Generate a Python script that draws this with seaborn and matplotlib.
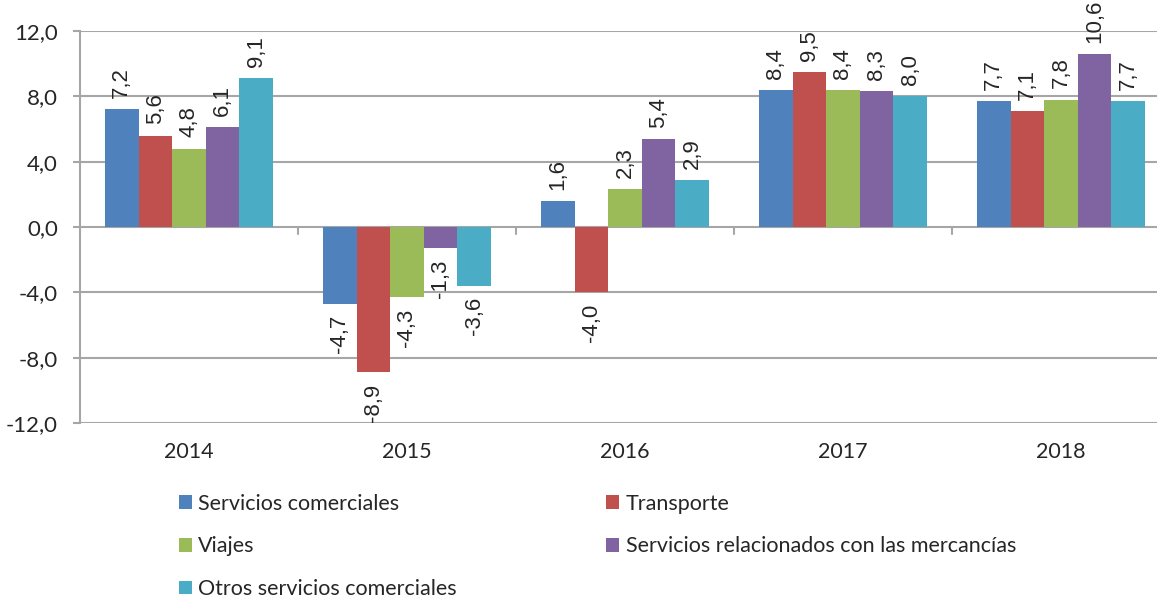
import pandas as pd
import matplotlib.pyplot as plt
import seaborn as sns
from matplotlib.patches import Patch

# Data
years = ["2014", "2015", "2016", "2017", "2018"]
series = ["Servicios comerciales", "Transporte", "Viajes",
          "Servicios relacionados con las mercancías", "Otros servicios comerciales"]
servicios_comerciales = [7.2, -4.7, 1.6, 8.4, 7.7]
transporte = [5.6, -8.9, -4.0, 9.5, 7.1]
viajes = [4.8, -4.3, 2.3, 8.4, 7.8]
mercancias = [6.1, -1.3, 5.4, 8.3, 10.6]
otros = [9.1, -3.6, 2.9, 8.0, 7.7]
colors = ["#4F81BD", "#C0504D", "#9BBB59", "#8064A2", "#4BACC6"]
yticks = [-12, -8, -4, 0, 4, 8, 12]

values = [servicios_comerciales, transporte, viajes, mercancias, otros]
rows = []
for name, vals in zip(series, values):
    for year, v in zip(years, vals):
        rows.append({"Año": year, "Serie": name, "Valor": v})
df = pd.DataFrame(rows)

sns.set_style("white")
plt.rcParams['font.family'] = ['Lato', 'DejaVu Sans']

fig = plt.figure(figsize=(11.57, 5.98), dpi=100)
ax = fig.add_axes([80 / 1157, 1 - 423 / 598, 1090 / 1157, 392 / 598])

sns.barplot(data=df, x="Año", y="Valor", hue="Serie", hue_order=series,
            palette=colors, width=0.77, linewidth=0, saturation=1,
            errorbar=None, ax=ax, legend=False, zorder=3)

fmt = lambda v: f"{v:.1f}".replace(".", ",")
for cont in ax.containers:
    ax.bar_label(cont, fmt=fmt, rotation=90, padding=8, fontsize=16,
                 family="Liberation Sans")

ax.set_xlim(-0.5, 4.5)
ax.set_ylim(-12, 12)
ax.set_yticks(yticks)
ax.set_yticklabels([fmt(t) for t in yticks], fontsize=16)
ax.yaxis.grid(True, color="#A6A6A6", linewidth=1.5, zorder=0)
ax.set_axisbelow(True)
ax.tick_params(axis="y", length=5, width=1.5, color="#A6A6A6", pad=11, left=True)
ax.tick_params(axis="x", length=0, pad=14, labelsize=15.5)
ax.set_xlabel("")
ax.set_ylabel("")
for s in ["top", "right", "bottom"]:
    ax.spines[s].set_visible(False)
ax.spines["left"].set_color("#A6A6A6")
ax.spines["left"].set_linewidth(1.5)

# category axis at zero with boundary ticks
for b in [0.5, 1.5, 2.5, 3.5]:
    ax.plot([b, b], [0, -0.4], color="#A6A6A6", linewidth=1.5, zorder=1,
            clip_on=False)

handles = [Patch(facecolor=c, edgecolor="none") for c in colors]
order = [0, 2, 4, 1, 3]
fig.legend([handles[i] for i in order], [series[i] for i in order],
           loc="upper left", bbox_to_anchor=(168 / 1157, 1 - 483 / 598),
           ncol=2, frameon=False, fontsize=15.5, handlelength=0.6,
           handleheight=0.6, handletextpad=0.3, labelspacing=1.05,
           columnspacing=6.95, borderpad=0)

fig.savefig("out.png", dpi=100)
